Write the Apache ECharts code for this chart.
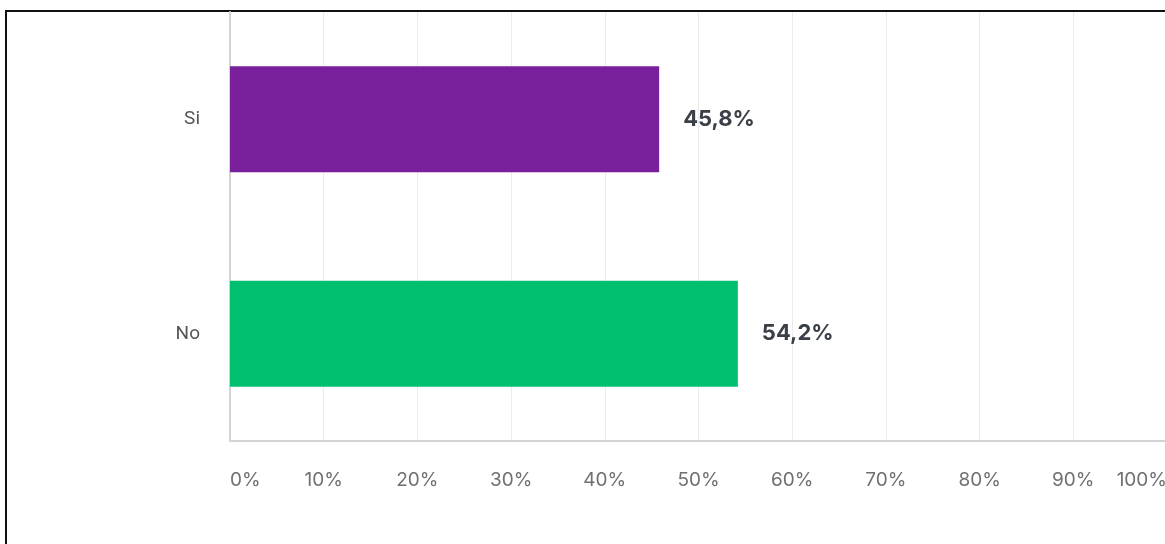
<!DOCTYPE html>
<html>
<head>
<meta charset="utf-8">
<script src="https://cdn.jsdelivr.net/npm/echarts@6/dist/echarts.min.js"></script>
<style>
  html, body { margin: 0; padding: 0; background: #fff; overflow: hidden; }
  #frame {
    position: absolute; left: 5px; top: 10px; width: 1300px; height: 700px;
    border-top: 2px solid #111; border-left: 2px solid #111;
  }
  #chart { position: absolute; left: 0; top: 0; width: 1165px; height: 544px; }
</style>
</head>
<body>
<div id="frame"></div>
<div id="chart"></div>
<script>
const categories = ['Si', 'No'];
const values = [45.8, 54.2];
const barColors = ['#7B209D', '#00BF6F'];
const tickMax = 100;

const myChart = echarts.init(document.getElementById('chart'));

const option = {
    animation: false,
    grid: {
        left: 230,
        top: 12,
        width: 937,
        bottom: 103,
        containLabel: false,
        outerBoundsMode: 'none'
    },
    xAxis: {
        type: 'value',
        min: 0,
        max: tickMax,
        interval: 10,
        axisLine: { show: true, lineStyle: { color: '#d4d4d4', width: 2 } },
        axisTick: { show: false },
        splitLine: { show: true, lineStyle: { color: '#ebebeb', width: 1 } },
        axisLabel: {
            margin: 30,
            color: '#707070',
            fontFamily: 'Inter',
            fontSize: 19,
            alignMinLabel: 'left',
            alignMaxLabel: 'right',
            formatter: (v) => v + '%'
        }
    },
    yAxis: {
        type: 'category',
        inverse: true,
        data: categories,
        axisLine: { show: true, lineStyle: { color: '#d4d4d4', width: 2 } },
        axisTick: { show: false },
        axisLabel: {
            margin: 30,
            color: '#555',
            fontFamily: 'Roboto',
            fontSize: 19
        }
    },
    series: [
        {
            type: 'bar',
            barWidth: 106,
            data: values.map((v, i) => ({ value: v, itemStyle: { color: barColors[i] } })),
            label: {
                show: true,
                position: 'right',
                distance: 24,
                color: '#3b4048',
                fontFamily: 'Inter',
                fontWeight: 'bold',
                fontSize: 22,
                formatter: (p) => p.value.toFixed(1).replace('.', ',') + '%'
            }
        }
    ]
};

myChart.setOption(option);
</script>
</body>
</html>
